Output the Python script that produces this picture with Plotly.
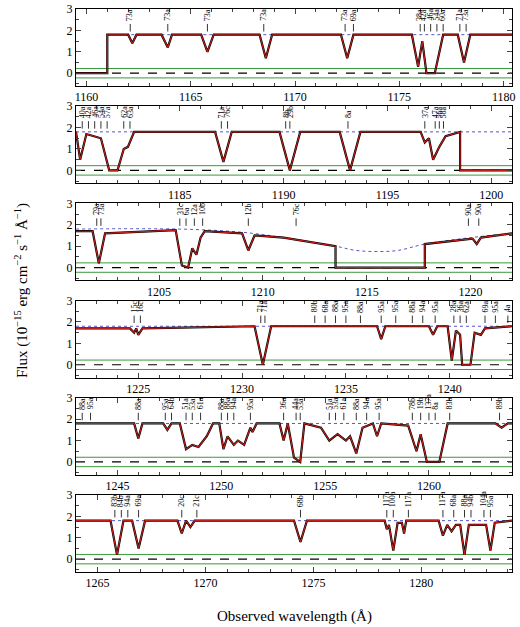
import plotly.graph_objects as go

# ---- data ----
xranges = [(1159.5, 1180.4), (1180.0, 1201.0), (1201.0, 1222.0),
           (1222.0, 1243.0), (1243.0, 1264.0), (1264.0, 1284.2)]
xticks = [[1160, 1165, 1170, 1175, 1180], [1185, 1190, 1195, 1200],
          [1205, 1210, 1215, 1220], [1225, 1230, 1235, 1240],
          [1245, 1250, 1255, 1260], [1265, 1270, 1275, 1280]]

w1 = [1159.5,1161.0,1161.0,1162.0,1162.2,1162.4,1163.6,1163.9,1164.1,1165.5,1165.8,1166.1,1168.3,1168.6,1168.9,1172.2,1172.5,1172.8,1175.6,1175.9,1176.1,1176.3,1176.7,1177.1,1177.8,1178.1,1178.4,1180.4]
f1 = [0,0,1.8,1.8,1.4,1.8,1.8,1.2,1.8,1.8,1.0,1.8,1.8,0.7,1.8,1.8,0.7,1.8,1.8,0.3,1.5,0.0,0.0,1.8,1.8,0.5,1.8,1.8]
w2 = [1180,1180.2,1180.5,1181.2,1181.6,1182.0,1182.3,1182.5,1182.8,1186.7,1187.1,1187.5,1189.8,1190.3,1190.8,1192.7,1193.2,1193.7,1196.6,1196.8,1197.0,1197.2,1197.5,1197.8,1198.5,1198.5,1201]
f2 = [1.8,0.5,1.7,1.5,0.0,0.0,1.0,1.1,1.8,1.8,0.4,1.8,1.8,0.0,1.8,1.8,0.0,1.8,1.8,1.3,1.5,0.5,1.1,1.6,1.8,0,0]
w3 = [1201,1201.8,1202.1,1202.4,1205.8,1206.1,1206.4,1206.6,1206.8,1207.0,1207.2,1209.0,1209.3,1209.6,1211,1213.5,1213.5,1217.8,1217.8,1220.1,1220.3,1220.5,1222]
f3 = [1.7,1.7,0.2,1.6,1.75,0.1,0.0,0.9,0.6,1.4,1.7,1.6,0.8,1.5,1.4,1.0,0,0,1.1,1.35,1.1,1.4,1.6]
w4 = [1222,1224.6,1224.8,1224.9,1225.0,1225.2,1230.6,1231.0,1231.4,1236.5,1236.7,1236.9,1239.0,1239.2,1239.4,1239.9,1240.1,1240.3,1240.5,1240.6,1241.0,1241.2,1241.5,1241.7,1243]
f4 = [1.7,1.7,1.5,1.7,1.4,1.7,1.8,0.0,1.8,1.8,1.2,1.8,1.8,1.4,1.8,1.8,0.2,1.6,1.4,0.0,0.0,1.5,1.4,1.7,1.8]
w5 = [1243,1245.8,1246.0,1246.2,1247.2,1247.4,1247.6,1248.0,1248.3,1248.6,1248.9,1249.3,1249.6,1249.9,1250.1,1250.3,1250.6,1250.8,1251.1,1251.4,1251.5,1251.7,1252.8,1253.0,1253.2,1253.5,1253.8,1254.0,1254.8,1255.2,1255.6,1256.0,1256.2,1256.5,1256.8,1257.3,1257.5,1257.7,1259.0,1259.4,1259.6,1259.9,1260.5,1260.9,1263.2,1263.5,1263.8,1264]
f5 = [1.8,1.8,1.1,1.8,1.8,1.5,1.8,1.8,0.6,0.8,0.7,1.2,1.8,1.8,0.6,1.2,0.8,1.0,0.8,1.6,1.4,1.8,1.8,1.0,1.8,0.2,0.0,1.8,1.6,1.0,1.3,1.0,1.2,0.4,1.6,1.8,1.2,1.8,1.7,0.5,1.3,0.0,0.0,1.8,1.8,1.6,1.8,1.8]
w6 = [1264,1265.6,1265.9,1266.2,1266.6,1266.9,1267.2,1268.7,1268.9,1269.1,1269.3,1269.5,1274.1,1274.4,1274.7,1278.3,1278.4,1278.5,1278.7,1278.9,1279.1,1279.2,1279.3,1280.8,1281.0,1281.2,1281.4,1281.6,1281.8,1282.0,1282.2,1283.0,1283.2,1283.4,1284.2]
f6 = [1.8,1.8,0.2,1.8,1.8,0.5,1.8,1.8,1.2,1.8,1.5,1.8,1.8,0.8,1.8,1.8,1.4,1.6,0.4,1.7,1.7,1.2,1.8,1.8,1.1,1.6,1.3,1.6,1.6,0.2,1.6,1.6,0.4,1.7,1.8]
waves = [w1, w2, w3, w4, w5, w6]
fluxes = [f1, f2, f3, f4, f5, f6]

cont_w = [[1161.0, 1180.4], [1180.0, 1201.0],
          [1201, 1206, 1209, 1211, 1213.5, 1214.5, 1215.5, 1216.5, 1217.8, 1220, 1222],
          [1222, 1243], [1243, 1264], [1264, 1284.2]]
cont_f = [[1.8, 1.8], [1.8, 1.8],
          [1.8, 1.8, 1.65, 1.4, 1.0, 0.8, 0.75, 0.8, 1.1, 1.4, 1.6],
          [1.8, 1.8], [1.8, 1.8], [1.8, 1.8]]

labels = [
    [(1162.1,"73a"),(1163.9,"73a"),(1165.8,"73a"),(1168.5,"73a"),(1172.4,"73a"),(1172.8,"69a"),(1176.0,"38a"),(1176.2,"42a"),(1176.5,"46a"),(1176.8,"54a"),(1177.1,"60a"),(1177.9,"71a"),(1178.2,"73a")],
    [(1180.3,"40a"),(1180.6,"42a"),(1180.9,"46a"),(1181.2,"54a"),(1181.5,"57a"),(1182.3,"62a"),(1182.6,"63a"),(1187.0,"71a"),(1187.3,"76c"),(1190.1,"8b"),(1190.3,"29b"),(1193.1,"8a"),(1196.8,"37a"),(1197.3,"47a"),(1197.5,"56a"),(1197.7,"58a")],
    [(1202.0,"79a"),(1202.2,"73a"),(1206.0,"31c"),(1206.3,"6a"),(1206.7,"12a"),(1207.1,"10b"),(1209.3,"12b"),(1211.6,"76c"),(1219.9,"90a"),(1220.4,"90a")],
    [(1224.8,"15c"),(1225.1,"16c"),(1230.9,"71a"),(1231.1,"71a"),(1233.5,"80b"),(1234.0,"68a"),(1234.5,"88a"),(1235.0,"95a"),(1235.7,"88a"),(1236.7,"95a"),(1237.4,"95a"),(1238.2,"88a"),(1238.7,"94a"),(1239.3,"95a"),(1240.2,"28a"),(1240.5,"36a"),(1240.8,"62a"),(1241.7,"69a"),(1242.2,"95a"),(1242.8,"4a")],
    [(1243.3,"88a"),(1243.7,"95a"),(1246.0,"88a"),(1247.3,"95a"),(1247.6,"64b"),(1248.3,"51a"),(1248.6,"53a"),(1249.0,"61a"),(1250.0,"88a"),(1250.3,"88a"),(1250.6,"94a"),(1251.4,"95a"),(1253.0,"36a"),(1253.6,"44a"),(1253.8,"53a"),(1255.2,"51a"),(1255.5,"53a"),(1255.9,"61a"),(1256.5,"88a"),(1257.0,"94a"),(1257.6,"95a"),(1259.2,"78b"),(1259.6,"19b"),(1260.0,"137a"),(1260.3,"8a"),(1261.0,"83b"),(1263.4,"89b")],
    [(1265.8,"83b"),(1266.1,"84b"),(1266.4,"94a"),(1266.9,"69a"),(1268.9,"20c"),(1269.6,"21c"),(1274.4,"68b"),(1278.4,"117a"),(1278.7,"100a"),(1279.4,"117a"),(1281.0,"117a"),(1281.5,"68a"),(1282.0,"88a"),(1282.3,"94b"),(1282.9,"104a"),(1283.2,"95a")],
]
err_level = 0.22
yticks = [0, 1, 2, 3]

# ---- figure ----
W, H = 520, 627
top, bottom, left, right = 2, 55, 76, 8
ph, gap = 78, 20.4
FONT = "Liberation Serif"
fig = go.Figure()
layout = dict(width=W, height=H, margin=dict(l=left, r=right, t=top, b=bottom),
              paper_bgcolor="white", plot_bgcolor="white", showlegend=False,
              font=dict(family=FONT, size=12, color="black"))
plot_h = H - top - bottom
annotations = []
shapes = []
for i in range(6):
    n = "" if i == 0 else str(i + 1)
    y1 = 1 - (i * (ph + gap)) / plot_h
    y0 = y1 - ph / plot_h
    xa, ya = "x" + n, "y" + n
    axis = dict(showline=True, linecolor="black", linewidth=1, mirror="allticks",
                ticks="inside", ticklen=5, showgrid=False, zeroline=False)
    layout["xaxis" + n] = dict(axis, domain=[0, 1], anchor=ya, range=list(xranges[i]),
                               tickvals=xticks[i], minor=dict(ticks="inside", ticklen=3, dtick=1))
    layout["yaxis" + n] = dict(axis, domain=[max(y0, 0), min(y1, 1)], anchor=xa, range=[-0.6, 3],
                               tickvals=yticks, minor=dict(ticks="inside", ticklen=3, dtick=0.5))
    x0, x1 = xranges[i]
    for s in (err_level, -err_level):
        fig.add_trace(go.Scatter(x=[x0, x1], y=[s, s], mode="lines",
                                 line=dict(color="#3a9a3a", width=1), xaxis=xa, yaxis=ya))
    fig.add_trace(go.Scatter(x=[x0, x1], y=[0, 0], mode="lines",
                             line=dict(color="black", width=1.2, dash="dash"), xaxis=xa, yaxis=ya))
    fig.add_trace(go.Scatter(x=cont_w[i], y=cont_f[i], mode="lines", line_shape="spline",
                             line=dict(color="#5555cc", width=1, dash="dot"), xaxis=xa, yaxis=ya))
    fig.add_trace(go.Scatter(x=waves[i], y=fluxes[i], mode="lines",
                             line=dict(color="black", width=2.2), xaxis=xa, yaxis=ya))
    fig.add_trace(go.Scatter(x=waves[i], y=fluxes[i], mode="lines",
                             line=dict(color="#c0201a", width=1.1), xaxis=xa, yaxis=ya))
    for (wl, t) in labels[i]:
        shapes.append(dict(type="line", xref=xa, yref=ya, x0=wl, x1=wl, y0=1.95, y1=2.3,
                           line=dict(color="black", width=0.8)))
        annotations.append(dict(x=wl, y=2.35, xref=xa, yref=ya, text=t, textangle=-90,
                                showarrow=False, yanchor="bottom", font=dict(size=8, family=FONT)))

annotations.append(dict(text="Observed wavelength (Å)", xref="paper", yref="paper",
                        x=0.5, y=-0.06, showarrow=False, yanchor="top",
                        font=dict(size=15, family=FONT)))
annotations.append(dict(text="Flux (10<sup>−15</sup> erg cm<sup>−2</sup> s<sup>−1</sup> Å<sup>−1</sup>)",
                        xref="paper", yref="paper", x=-0.125, y=0.5, textangle=-90,
                        showarrow=False, xanchor="center", font=dict(size=15, family=FONT)))
layout["annotations"] = annotations
layout["shapes"] = shapes
fig.update_layout(**layout)
fig.write_html("out.html", config={"displayModeBar": False},
               post_script="document.body.style.margin='0';")
